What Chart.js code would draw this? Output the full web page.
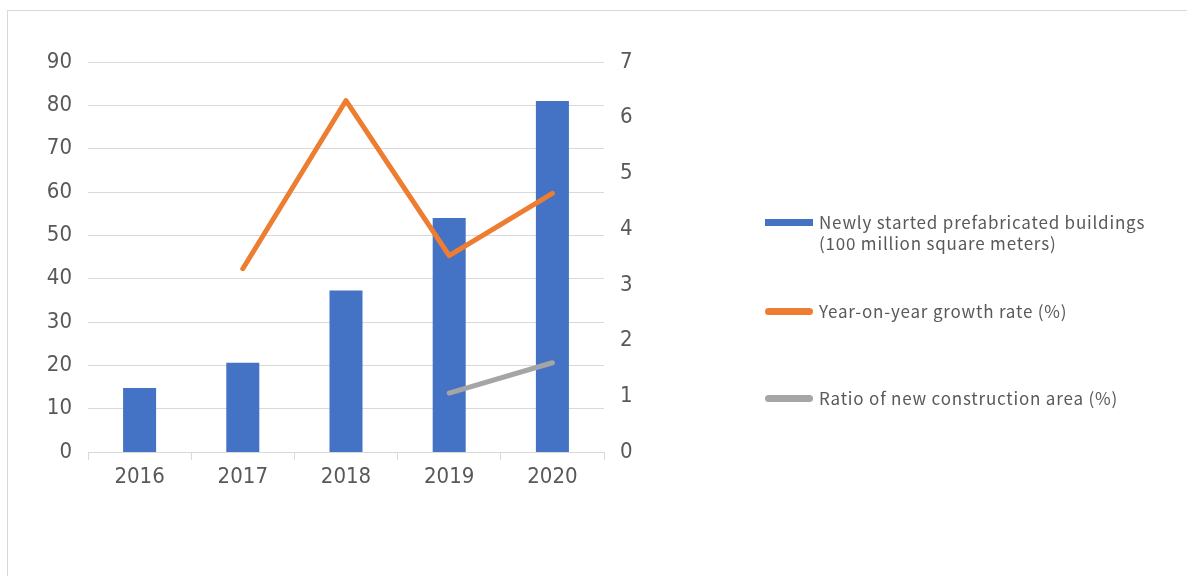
<!DOCTYPE html>
<html><head><meta charset="utf-8">
<script src="https://cdn.jsdelivr.net/npm/chart.js@4"></script>
<style>
html,body{margin:0;padding:0;background:#fff;}
#wrap{position:relative;width:1187px;height:576px;overflow:hidden;}
#frame{position:absolute;left:7px;top:10px;width:1300px;height:700px;border:1px solid #d9d9d9;box-sizing:border-box;}
canvas{position:absolute;left:0;top:0;}
.leg{position:absolute;left:765px;font-family:"Noto Sans CJK SC","Noto Sans",sans-serif;font-size:17px;letter-spacing:0.8px;color:#595959;line-height:21px;}
.sw{position:absolute;left:0;width:48px;height:7px;}
.lt{position:absolute;left:54px;white-space:nowrap;}
</style></head>
<body><div id="wrap"><div id="frame"></div><canvas id="c" width="1187" height="576"></canvas>
<div class="leg" style="top:212px"><div class="sw" style="top:7px;background:#4472C4"></div><div class="lt" style="top:-1px">Newly started prefabricated buildings<br>(100 million square meters)</div></div>
<div class="leg" style="top:301px"><div class="sw" style="top:7px;background:#ED7D31;border-radius:4px"></div><div class="lt" style="top:-1px">Year-on-year growth rate (%)</div></div>
<div class="leg" style="top:388px"><div class="sw" style="top:7px;background:#A5A5A5;border-radius:4px"></div><div class="lt" style="top:-1px">Ratio of new construction area (%)</div></div>
</div>
<script>
const categories = ["2016","2017","2018","2019","2020"];
const newlyStarted = [1.15, 1.6, 2.9, 4.2, 6.3];
const growthRate = [null, 42.3, 81.1, 45.3, 59.7];
const ratioArea = [null, null, null, 13.6, 20.6];
const seriesNames = ["Newly started prefabricated buildings (100 million square meters)","Year-on-year growth rate (%)","Ratio of new construction area (%)"];

const tickFont = {family:"'Liberation Sans Narrow','DejaVu Sans Condensed',sans-serif", size:22};
new Chart(document.getElementById('c'), {
  data:{labels:categories, datasets:[
    {type:'line', label:seriesNames[1], data:growthRate, yAxisID:'yL', borderColor:'#ED7D31', borderWidth:5, pointRadius:0, borderCapStyle:'round', borderJoinStyle:'round', order:1},
    {type:'line', label:seriesNames[2], data:ratioArea, yAxisID:'yL', borderColor:'#A5A5A5', borderWidth:5, pointRadius:0, borderCapStyle:'round', order:2},
    {type:'bar', label:seriesNames[0], data:newlyStarted, yAxisID:'yR', backgroundColor:'#4472C4', categoryPercentage:1, barPercentage:0.32, order:3}
  ]},
  options:{responsive:false, animation:false,
    layout:{padding:{left:0,right:533,top:62,bottom:74}},
    plugins:{legend:{display:false}, tooltip:{enabled:false}},
    scales:{
      x:{offset:true, grid:{display:true, drawOnChartArea:false, offset:true, color:'#d9d9d9', tickLength:8}, border:{color:'#d9d9d9'},
         ticks:{color:'#595959', font:tickFont, padding:4}, afterFit(s){s.height=50;}},
      yL:{position:'left', min:0, max:90, ticks:{stepSize:10, color:'#595959', font:tickFont, padding:16}, grid:{color:'#d9d9d9', drawTicks:false}, border:{display:false}, afterFit(s){s.width=88;}},
      yR:{position:'right', min:0, max:7, ticks:{stepSize:1, color:'#595959', font:tickFont, padding:16}, grid:{display:false, drawTicks:false}, border:{display:false}, afterFit(s){s.width=50;}}
    }
  }
});
</script></body></html>
